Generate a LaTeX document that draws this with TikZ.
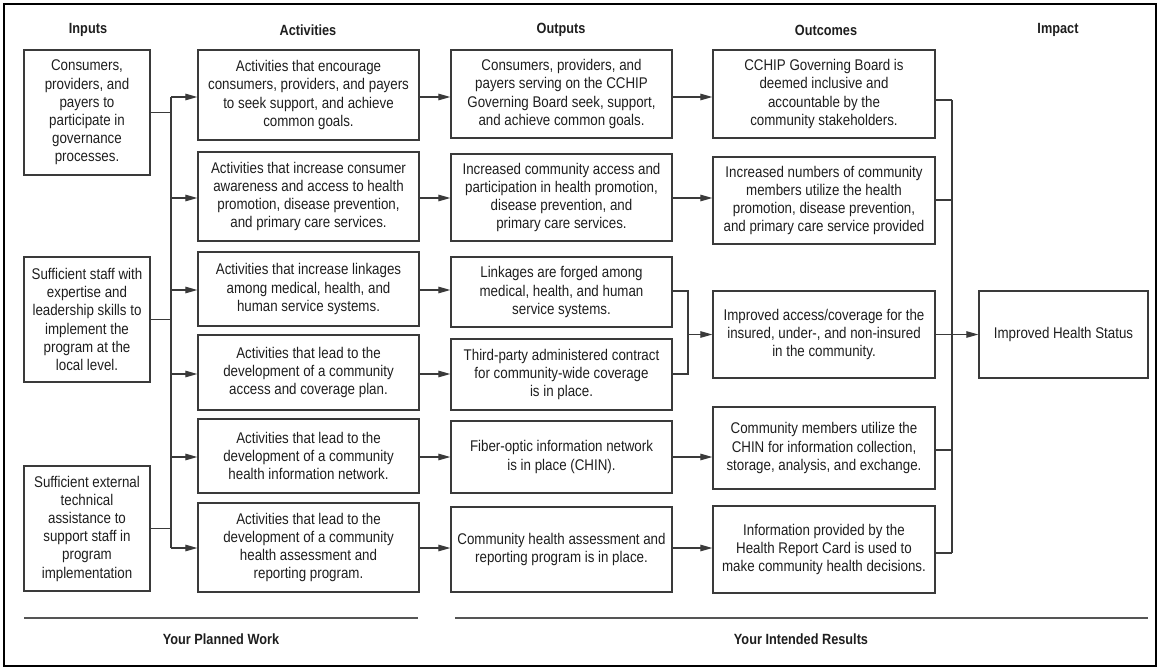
\documentclass[tikz,border=0pt]{standalone}
\usepackage{fontspec}
\setmainfont{Liberation Sans}[FakeStretch=0.86]
\usetikzlibrary{arrows.meta}
\definecolor{ink}{HTML}{1E1E1E}
\definecolor{edge}{HTML}{3A3A3A}
\definecolor{rule}{HTML}{555555}
\begin{document}
\begin{tikzpicture}[x=1pt,y=-1pt,
  box/.style={draw=edge, line width=1.3pt, align=center, inner sep=0pt,
    text=ink, font=\fontsize{15.5}{18.2}\selectfont},
  head/.style={text=ink, font=\fontsize{14.8}{18}\selectfont\bfseries, inner sep=0pt},
  link/.style={draw=edge, line width=1.2pt},
  arr/.style={link, -{Triangle[length=12pt,width=6.5pt]}}
]
\useasboundingbox (0,0) rectangle (1160,669);
\draw[line width=2pt, black] (4,4) rectangle (1156,666);

% column headings
\node[head] (hin)  at (88,30)   {Inputs};
\node[head] (hact) at (308,30)  {Activities};
\node[head] (hout) at (561,30)  {Outputs};
\node[head] (hoc)  at (826,30)  {Outcomes};
\node[head] (himp) at (1058,30) {Impact};

% inputs
\node[box, minimum width=126pt, minimum height=125pt] (I1) at (87,112.5)
  {Consumers,\\providers, and\\payers to\\participate in\\governance\\processes.};
\node[box, minimum width=126pt, minimum height=125pt] (I2) at (87,319.5)
  {Sufficient staff with\\expertise and\\leadership skills to\\implement the\\program at the\\local level.};
\node[box, minimum width=126pt, minimum height=125pt] (I3) at (87,528.5)
  {Sufficient external\\technical\\assistance to\\support staff in\\program\\implementation};

% activities
\node[box, minimum width=221pt, minimum height=90pt] (A1) at (308.5,95)
  {Activities that encourage\\consumers, providers, and payers\\to seek support, and achieve\\common goals.};
\node[box, minimum width=221pt, minimum height=89pt] (A2) at (308.5,196.5)
  {Activities that increase consumer\\awareness and access to health\\promotion, disease prevention,\\and primary care services.};
\node[box, minimum width=221pt, minimum height=74pt] (A3) at (308.5,289)
  {Activities that increase linkages\\among medical, health, and\\human service systems.};
\node[box, minimum width=221pt, minimum height=75pt] (A4) at (308.5,372.5)
  {Activities that lead to the\\development of a community\\access and coverage plan.};
\node[box, minimum width=221pt, minimum height=74pt] (A5) at (308.5,456)
  {Activities that lead to the\\development of a community\\health information network.};
\node[box, minimum width=221pt, minimum height=89pt] (A6) at (308.5,547.5)
  {Activities that lead to the\\development of a community\\health assessment and\\reporting program.};

% outputs
\node[box, minimum width=221pt, minimum height=88pt] (O1) at (561.5,94)
  {Consumers, providers, and\\payers serving on the CCHIP\\Governing Board seek, support,\\and achieve common goals.};
\node[box, minimum width=221pt, minimum height=87pt] (O2) at (561.5,197.5)
  {Increased community access and\\participation in health promotion,\\disease prevention, and\\primary care services.};
\node[box, minimum width=221pt, minimum height=70pt] (O3) at (561.5,292)
  {Linkages are forged among\\medical, health, and human\\service systems.};
\node[box, minimum width=221pt, minimum height=71pt] (O4) at (561.5,374.5)
  {Third-party administered contract\\for community-wide coverage\\is in place.};
\node[box, minimum width=221pt, minimum height=72pt] (O5) at (561.5,457)
  {Fiber-optic information network\\is in place (CHIN).};
\node[box, minimum width=221pt, minimum height=85pt] (O6) at (561.5,549.5)
  {Community health assessment and\\reporting program is in place.};

% outcomes
\node[box, minimum width=222pt, minimum height=88pt] (C1) at (824,94)
  {CCHIP Governing Board is\\deemed inclusive and\\accountable by the\\community stakeholders.};
\node[box, minimum width=222pt, minimum height=87pt] (C2) at (824,200.5)
  {Increased numbers of community\\members utilize the health\\promotion, disease prevention,\\and primary care service provided};
\node[box, minimum width=222pt, minimum height=87pt] (C3) at (824,334.5)
  {Improved access/coverage for the\\insured, under-, and non-insured\\in the community.};
\node[box, minimum width=222pt, minimum height=82pt] (C4) at (824,448)
  {Community members utilize the\\CHIN for information collection,\\storage, analysis, and exchange.};
\node[box, minimum width=222pt, minimum height=87pt] (C5) at (824,549.5)
  {Information provided by the\\Health Report Card is used to\\make community health decisions.};

% impact
\node[box, minimum width=169pt, minimum height=87pt] (IM) at (1063.5,334.5)
  {Improved Health Status};

% bus lines
\coordinate (bin) at (171,0);
\coordinate (bmg) at (688,0);
\coordinate (bout) at (952,0);

% inputs feed the activity bus
\foreach \n in {I1,I2,I3} \draw[link] (\n.east) -- (\n.east -| bin);
\draw[link] (bin |- 0,97) -- (bin |- 0,548);
\foreach \n/\y in {A1/97,A2/198,A3/290,A4/374,A5/457,A6/548}
  \draw[arr] (bin |- 0,\y) -- (\n.west |- 0,\y);

% activities to outputs
\foreach \a/\o/\y in {A1/O1/97,A2/O2/198,A3/O3/290,A4/O4/374,A5/O5/457,A6/O6/548}
  \draw[arr] (\a.east |- 0,\y) -- (\o.west |- 0,\y);

% outputs to outcomes
\draw[arr] (O1.east |- 0,97) -- (C1.west |- 0,97);
\draw[arr] (O2.east |- 0,198) -- (C2.west |- 0,198);
\draw[link] (O3.east |- 0,291) -- (bmg |- 0,291) -- (bmg |- 0,374) -- (O4.east |- 0,374);
\draw[arr] (bmg |- C3.west) -- (C3.west);
\draw[arr] (O5.east |- 0,457) -- (C4.west |- 0,457);
\draw[arr] (O6.east |- 0,548) -- (C5.west |- 0,548);

% outcomes to impact
\foreach \n/\y in {C1/100,C2/200,C4/450,C5/553}
  \draw[link] (\n.east |- 0,\y) -- (bout |- 0,\y);
\draw[link] (bout |- 0,100) -- (bout |- 0,553);
\draw[arr] (C3.east) -- (IM.west);

% footer
\draw[rule, line width=2.2pt] (24,618) -- (418,618);
\draw[rule, line width=2.2pt] (455,618) -- (1148,618);
\node[head] (fplan) at (221,639) {Your Planned Work};
\node[head] (fres)  at (801,639) {Your Intended Results};
\end{tikzpicture}
\end{document}
